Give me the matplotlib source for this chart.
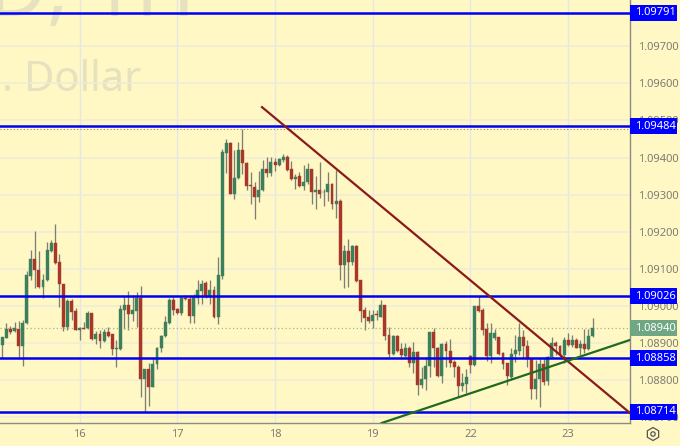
import numpy as np
import matplotlib
matplotlib.use("Agg")
import matplotlib.pyplot as plt
from matplotlib.patches import Rectangle, RegularPolygon, Circle
from matplotlib.transforms import IdentityTransform

plt.rcParams['font.family'] = ['Noto Sans', 'DejaVu Sans']

# hourly candles, prices in 1e-5
opens = [
    108894,108913,108937,108932,108938,108892,108954,109081,109126,109098,
    109051,109069,109148,109170,109117,109060,108943,109012,108986,108936,
    108941,108939,108981,108910,108925,108905,108930,108923,108883,108883,
    108988,109001,108977,108986,109020,108803,108829,108781,108842,108885,
    108919,108955,109015,108991,108981,109020,109019,108973,109022,109040,
    109062,109024,109042,108970,109081,109413,109438,109303,109345,109420,
    109384,109325,109321,109294,109312,109368,109359,109388,109379,109393,
    109402,109368,109341,109350,109323,109333,109368,109308,109312,109306,
    109306,109329,109274,109283,109110,109147,109117,109161,109069,108989,
    108969,108960,108976,108971,109002,108922,108870,108919,108883,108865,
    108887,108847,108876,108787,108802,108838,108930,108887,108812,108897,
    108878,108848,108836,108785,108789,108865,108840,108999,108989,108937,
    108865,108912,108915,108874,108845,108809,108870,108879,108915,108893,
    108856,108777,108803,108843,108796,108861,108901,108893,108867,108908,
    108894,108908,108887,108897,108884,108919,
]
highs = [
    108916,108954,108945,108956,108959,108961,109094,109150,109201,109148,
    109087,109172,109177,109222,109141,109060,109019,109019,108995,108943,
    108956,108985,108981,108932,108934,108938,108943,108925,108907,109002,
    109024,109040,109028,109037,109054,108829,108847,108862,108889,108922,
    108972,109022,109024,108993,109024,109029,109029,109033,109069,109069,
    109066,109069,109053,109132,109424,109450,109442,109420,109441,109478,
    109387,109360,109334,109363,109393,109402,109402,109398,109398,109409,
    109406,109390,109357,109361,109379,109384,109370,109350,109388,109316,
    109360,109332,109366,109288,109164,109181,109164,109164,109071,108998,
    108989,108989,108989,109016,109003,108944,108922,108922,108899,108899,
    108892,108903,108877,108836,108863,108930,108940,108890,108899,108904,
    108910,108854,108840,108820,108831,108867,109000,109027,108993,108953,
    108953,108937,108917,108876,108847,108885,108921,108953,108935,108908,
    108858,108854,108858,108858,108865,108915,108905,108894,108917,108926,
    108921,108912,108908,108937,108937,108967,
]
lows = [
    108860,108913,108923,108929,108862,108838,108952,109069,109047,109049,
    109021,109067,109145,109114,108997,108932,108934,108961,108934,108907,
    108938,108938,108907,108898,108885,108903,108916,108867,108835,108882,
    108938,108936,108959,108943,108754,108714,108730,108781,108830,108875,
    108916,108950,108975,108979,108975,109017,108955,108955,109006,109004,
    109022,109006,108968,108950,109073,109359,109301,109289,109343,109357,
    109312,109274,109235,109280,109309,109348,109351,109364,109377,109389,
    109364,109339,109316,109321,109312,109330,109274,109260,109290,109269,
    109283,109262,109236,109071,109047,109051,109110,109064,108957,108935,
    108953,108940,108962,108969,108908,108861,108867,108876,108861,108861,
    108834,108818,108760,108778,108773,108809,108836,108809,108791,108834,
    108836,108807,108755,108769,108764,108820,108838,108984,108921,108850,
    108845,108908,108867,108829,108786,108804,108849,108867,108858,108834,
    108750,108750,108728,108786,108786,108858,108867,108863,108845,108892,
    108890,108885,108867,108872,108881,108915,
]
closes = [
    108916,108937,108930,108939,108892,108955,109082,109126,109096,109051,
    109071,109150,109170,109116,109060,108943,109013,108983,108936,108939,
    108938,108981,108910,108925,108905,108929,108920,108883,108885,108991,
    109001,108977,108988,109020,108803,108829,108781,108844,108887,108920,
    108956,109015,108988,108981,109020,109018,108972,109024,109042,109060,
    109024,109042,108970,109082,109414,109438,109303,109345,109420,109384,
    109324,109323,109294,109312,109368,109359,109388,109379,109395,109402,
    109366,109341,109348,109323,109333,109368,109307,109312,109303,109307,
    109330,109274,109283,109110,109147,109117,109161,109066,108986,108968,
    108960,108975,108975,109002,108920,108870,108920,108879,108867,108887,
    108847,108876,108787,108803,108839,108930,108885,108812,108897,108877,
    108847,108834,108785,108791,108809,108840,109000,108987,108935,108865,
    108926,108926,108870,108843,108811,108870,108881,108917,108892,108856,
    108777,108804,108843,108795,108863,108901,108892,108867,108908,108894,
    108908,108887,108897,108884,108919,108940,
]

level_prices = [1.09791, 1.09484, 1.09026, 1.08858, 1.08714]
last_price = 1.08940
high_marker = 1.09478

price_ticks = [1.09700, 1.09600, 1.09500, 1.09400, 1.09300, 1.09200,
               1.09100, 1.09000, 1.08900, 1.08800, 1.08700]
day_labels = ["16", "17", "18", "19", "22", "23"]
day_ticks = [19, 43, 67, 91, 115, 139]

red_trend_x = [63.8, 154.2]
red_trend_y = [1.09536, 1.08711]
green_trend_x = [93.2, 154.2]
green_trend_y = [1.08684, 1.08908]

bg = "#FFF8C4"
up_col = "#3B7F5C"
down_col = "#A8372A"
wick_col = "#7E7E78"
grey_text = "#7C7C74"

o = np.array(opens) / 1e5
h = np.array(highs) / 1e5
l = np.array(lows) / 1e5
c = np.array(closes) / 1e5
x = np.arange(len(o))

fig = plt.figure(figsize=(6.8, 4.46), dpi=100, facecolor=bg)
ax = fig.add_axes([0, 23 / 446, 630 / 680, 423 / 446], facecolor=bg)
ax.set_xlim(-0.565, 154.2)
ax.set_ylim(1.08684, 1.09825)

# faint watermark behind everything, top line runs off the picture
ax.text(-3.5, 1.09791 - 3 / 37093, "D, 1H", fontsize=58, color="#E6E1BE", zorder=0.5,
        ha="left", va="baseline", clip_on=True)
ax.text(0, 1.09791 - 78 / 37093, ". Dollar", fontsize=30, color="#E6E1BE", zorder=0.5,
        ha="left", va="baseline")

ax.set_yticks(price_ticks)
ax.set_yticklabels([f"{p:.5f}" for p in price_ticks])
ax.set_xticks(day_ticks)
ax.set_xticklabels(day_labels)
ax.yaxis.tick_right()
ax.tick_params(axis="y", length=0, pad=5.8, labelsize=8, labelcolor=grey_text)
ax.tick_params(axis="x", length=0, pad=4.5, labelsize=8, labelcolor=grey_text)
ax.set_axisbelow(True)
ax.grid(axis="y", color="#EFECD9", lw=1.1)
ax.grid(axis="x", color="#E6E6E8", lw=1.0)

for s in ["top", "left"]:
    ax.spines[s].set_visible(False)
for s in ["right", "bottom"]:
    ax.spines[s].set_color("#8C8C84")
    ax.spines[s].set_linewidth(1.0)

# candles
up = c >= o
colors = np.where(up, up_col, down_col)
ax.vlines(x, l, h, color=wick_col, lw=0.95, zorder=2)
ax.bar(x, np.maximum(np.abs(c - o), 0.00002), bottom=np.minimum(o, c), width=0.72,
       color=colors, edgecolor=colors, linewidth=0.3, zorder=3)

ax.axhline(last_price, color="#9DB58C", lw=0.9, ls=(0, (1, 2)), zorder=2.5)
ax.axhline(high_marker, color="#8C8C84", lw=0.8, ls=(0, (1, 2)), zorder=2.5)

for p in level_prices:
    ax.axhline(p, color="#0000F0", lw=1.8, zorder=4)

ax.plot(red_trend_x, red_trend_y, color="#8B1A1A", lw=1.6, zorder=4.5, clip_on=False)
ax.plot(green_trend_x, green_trend_y, color="#1E6B1E", lw=1.6, zorder=4.5)

# price labels on the scale
box_h = 16 / 37093
trans = ax.get_yaxis_transform()
for p in level_prices + [last_price]:
    col = "#6FA785" if p == last_price else "#0000FF"
    ax.add_patch(Rectangle((1.0, p - box_h / 2), 47 / 630, box_h, transform=trans,
                           facecolor=col, edgecolor="none", clip_on=False, zorder=6))
    ax.text(1.0 + 25 / 630, p, f"{p:.5f}", transform=trans, color="white", fontsize=8,
            fontweight="medium", ha="center", va="center", clip_on=False, zorder=7)

# settings icon in the corner
fig.add_artist(RegularPolygon((653, 12), 6, radius=6.5, transform=IdentityTransform(),
                              facecolor="none", edgecolor="#555555", lw=0.9))
fig.add_artist(Circle((653, 12), 2.2, transform=IdentityTransform(),
                      facecolor="none", edgecolor="#555555", lw=0.9))

fig.savefig("out.png", dpi=100, facecolor=bg)
